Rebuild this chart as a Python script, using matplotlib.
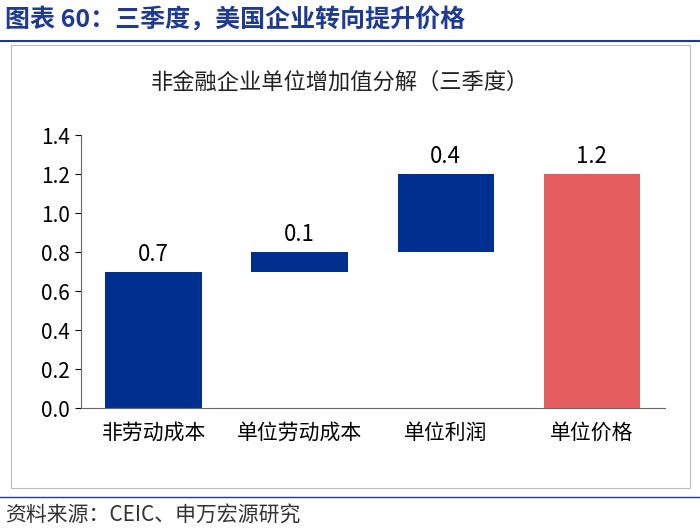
import matplotlib.pyplot as plt
from matplotlib.patches import Rectangle

plt.rcParams['font.family'] = ['Noto Sans CJK SC', 'DejaVu Sans']

categories = ['非劳动成本', '单位劳动成本', '单位利润', '单位价格']
values = [0.7, 0.1, 0.4, 1.2]
bottoms = [0.0, 0.7, 0.8, 0.0]
labels = ['0.7', '0.1', '0.4', '1.2']
colors = ['#00308F', '#00308F', '#00308F', '#E35D5F']
yticks = [0.0, 0.2, 0.4, 0.6, 0.8, 1.0, 1.2, 1.4]

fig = plt.figure(figsize=(7, 5.3), dpi=100)

# header and footer
fig.text(0.007, 0.962, '图表 60：三季度，美国企业转向提升价格', fontsize=18,
         fontweight='bold', color='#1F3A93', va='center')
fig.add_artist(plt.Line2D([0, 1], [0.922, 0.922], color='#1F3A93', lw=1.5))
fig.add_artist(plt.Line2D([0, 1], [0.062, 0.062], color='#1F3A93', lw=1))
fig.text(0.007, 0.028, '资料来源：CEIC、申万宏源研究', fontsize=15,
         color='#333333', va='center')
fig.add_artist(Rectangle((0.015, 0.08), 0.97, 0.835, transform=fig.transFigure,
                         fill=False, ec='#BBBBBB', lw=0.8))

fig.text(0.485, 0.845, '非金融企业单位增加值分解（三季度）', fontsize=16,
         ha='center', va='center', color='#222222')

ax = fig.add_axes([0.115, 0.23, 0.835, 0.515])
x = range(len(categories))
ax.bar(x, values, bottom=bottoms, width=0.66, color=colors)
for i, (v, b, t) in enumerate(zip(values, bottoms, labels)):
    ax.text(i, b + v + 0.03, t, ha='center', va='bottom', fontsize=16)

ax.set_xlim(-0.5, 3.5)
ax.set_ylim(0, 1.4)
ax.set_yticks(yticks)
ax.set_yticklabels([f'{t:.1f}' for t in yticks], fontsize=15)
ax.set_xticks(list(x))
ax.set_xticklabels(categories, fontsize=15)
ax.tick_params(axis='x', length=0, pad=10)
ax.tick_params(axis='y', length=4)
for s in ['top', 'right']:
    ax.spines[s].set_visible(False)
for s in ['left', 'bottom']:
    ax.spines[s].set_color('#666666')

fig.savefig('out.png')
